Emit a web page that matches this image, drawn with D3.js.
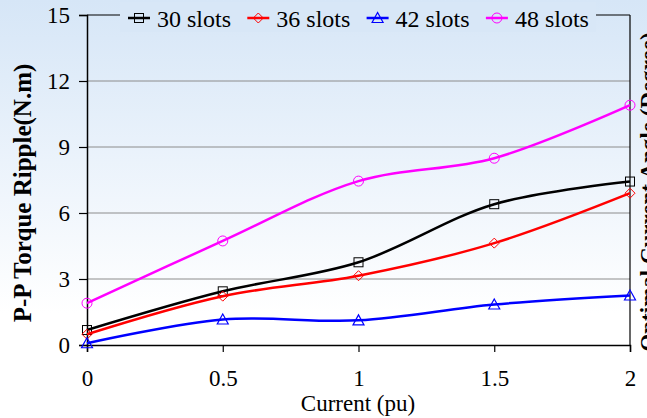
<!DOCTYPE html>
<html>
<head>
<meta charset="utf-8">
<script src="https://cdn.jsdelivr.net/npm/d3@7"></script>
<style>
  body { margin: 0; padding: 0; }
  svg { display: block; }
  svg text { font-family: "Liberation Serif", "Times New Roman", "DejaVu Serif", serif; }
</style>
</head>
<body>
<div class="canvas"></div>
<script>
// chart data
var currents = [0, 0.5, 1, 1.5, 2]
var slot_names = ["30 slots", "36 slots", "42 slots", "48 slots"]
var ripple_30 = [0.68, 2.44, 3.76, 6.4, 7.43]
var ripple_36 = [0.49, 2.22, 3.15, 4.63, 6.9]
var ripple_42 = [0.08, 1.16, 1.12, 1.84, 2.25]
var ripple_48 = [1.9, 4.73, 7.45, 8.49, 10.9]
var y_ticks = [0, 3, 6, 9, 12, 15]
var x_ticks = [0, 0.5, 1, 1.5, 2]

var series = [ripple_30, ripple_36, ripple_42, ripple_48]
var colors = ["#000000", "#ff0000", "#0000ff", "#ff00ff"]
var shapes = ["square", "diamond", "triangle", "circle"]

var W = 647, H = 418
var svg = d3.select(".canvas").append("svg").attr("width", W).attr("height", H)

// background gradient
var grad = svg.append("defs").append("linearGradient")
    .attr("id", "bg").attr("x1", 0).attr("y1", 0).attr("x2", 0).attr("y2", 1)
grad.append("stop").attr("offset", "0%").attr("stop-color", "#d6e6f7")
grad.append("stop").attr("offset", "75%").attr("stop-color", "#ffffff")
grad.append("stop").attr("offset", "100%").attr("stop-color", "#ffffff")
svg.append("rect").attr("width", W).attr("height", H).attr("fill", "url(#bg)")

var plot = {left: 87, right: 630, top: 15, bottom: 345}
var x = d3.scaleLinear().domain([0, 2]).range([plot.left, plot.right])
var y = d3.scaleLinear().domain([0, 15]).range([plot.bottom, plot.top])

// gridlines
svg.selectAll(".grid").data(y_ticks.filter(d => d > 0 && d < 15)).enter()
    .append("line")
    .attr("x1", plot.left).attr("x2", plot.right)
    .attr("y1", d => y(d)).attr("y2", d => y(d))
    .attr("stroke", "#8c8c8c").attr("stroke-width", 1)

// box: top and right border
svg.append("line").attr("x1", plot.left).attr("x2", plot.right)
    .attr("y1", y(15)).attr("y2", y(15)).attr("stroke", "#000").attr("stroke-width", 1.2)
svg.append("line").attr("x1", plot.right).attr("x2", plot.right)
    .attr("y1", y(15)).attr("y2", y(0)).attr("stroke", "#000").attr("stroke-width", 1.2)

// y axis
var yAxis = svg.append("g").attr("transform", "translate(" + plot.left + ",0)")
    .call(d3.axisLeft(y).tickValues(y_ticks).tickSize(8).tickPadding(9))
yAxis.attr("font-family", null)
yAxis.select(".domain").attr("stroke-width", 1.5)
yAxis.selectAll("line").attr("stroke-width", 1.2)
yAxis.selectAll("text").attr("font-size", 23).attr("fill", "#000")

// x axis
var xAxis = svg.append("g").attr("transform", "translate(0," + plot.bottom + ")")
    .call(d3.axisBottom(x).tickValues(x_ticks).tickSize(7).tickPadding(18)
        .tickFormat(d3.format("")))
xAxis.attr("font-family", null)
xAxis.select(".domain").attr("stroke-width", 1.5)
xAxis.selectAll("line").attr("stroke-width", 1.2)
xAxis.selectAll("text").attr("font-size", 23).attr("fill", "#000")

// axis titles
svg.append("text")
    .attr("transform", "translate(31,193) rotate(-90)")
    .attr("text-anchor", "middle")
    .attr("font-size", 25).attr("font-weight", "bold")
    .text("P-P Torque Ripple(N.m)")

svg.append("text")
    .attr("x", 358).attr("y", 411)
    .attr("text-anchor", "middle")
    .attr("font-size", 23)
    .text("Current (pu)")

// secondary axis title, cut by the right edge
svg.append("text")
    .attr("transform", "translate(656,192) rotate(-90)")
    .attr("text-anchor", "middle")
    .attr("font-size", 23).attr("font-weight", "bold")
    .text("Optimal Current Angle (Degree)")

// marker drawing
function marker(g, shape, color, cx, cy) {
    if (shape == "square") {
        g.append("rect").attr("x", cx - 4.5).attr("y", cy - 4.5).attr("width", 9).attr("height", 9)
            .attr("fill", "none").attr("stroke", color).attr("stroke-width", 1)
    } else if (shape == "diamond") {
        g.append("path").attr("d", "M" + cx + "," + (cy - 5) + "L" + (cx + 5) + "," + cy +
            "L" + cx + "," + (cy + 5) + "L" + (cx - 5) + "," + cy + "Z")
            .attr("fill", "none").attr("stroke", color).attr("stroke-width", 1)
    } else if (shape == "triangle") {
        g.append("path").attr("d", "M" + cx + "," + (cy - 5.5) + "L" + (cx + 5.5) + "," + (cy + 4.5) +
            "L" + (cx - 5.5) + "," + (cy + 4.5) + "Z")
            .attr("fill", "none").attr("stroke", color).attr("stroke-width", 1.2)
    } else {
        g.append("circle").attr("cx", cx).attr("cy", cy).attr("r", 5)
            .attr("fill", "none").attr("stroke", color).attr("stroke-width", 1)
    }
}

var line = d3.line()
    .x((d, i) => x(currents[i]))
    .y(d => y(d))
    .curve(d3.curveCatmullRom.alpha(0.5))

series.forEach(function(s, k) {
    var g = svg.append("g")
    g.append("path").datum(s).attr("d", line)
        .attr("fill", "none").attr("stroke", colors[k]).attr("stroke-width", 2.5)
    s.forEach(function(v, i) {
        marker(g, shapes[k], colors[k], x(currents[i]), y(v))
    })
})

// legend (covers top border)
var legend = svg.append("g")
legend.append("rect").attr("x", 120).attr("y", 2).attr("width", 476).attr("height", 30)
    .attr("fill", "#d8e7f7")
slot_names.forEach(function(name, k) {
    var lx = 128 + k * 119.3
    var ly = 18
    legend.append("line").attr("x1", lx).attr("x2", lx + 22).attr("y1", ly).attr("y2", ly)
        .attr("stroke", colors[k]).attr("stroke-width", 2.5)
    marker(legend, shapes[k], colors[k], lx + 11, ly)
    legend.append("text").attr("x", lx + 29).attr("y", 27)
        .attr("font-size", 24).text(name)
})
</script>
</body>
</html>
